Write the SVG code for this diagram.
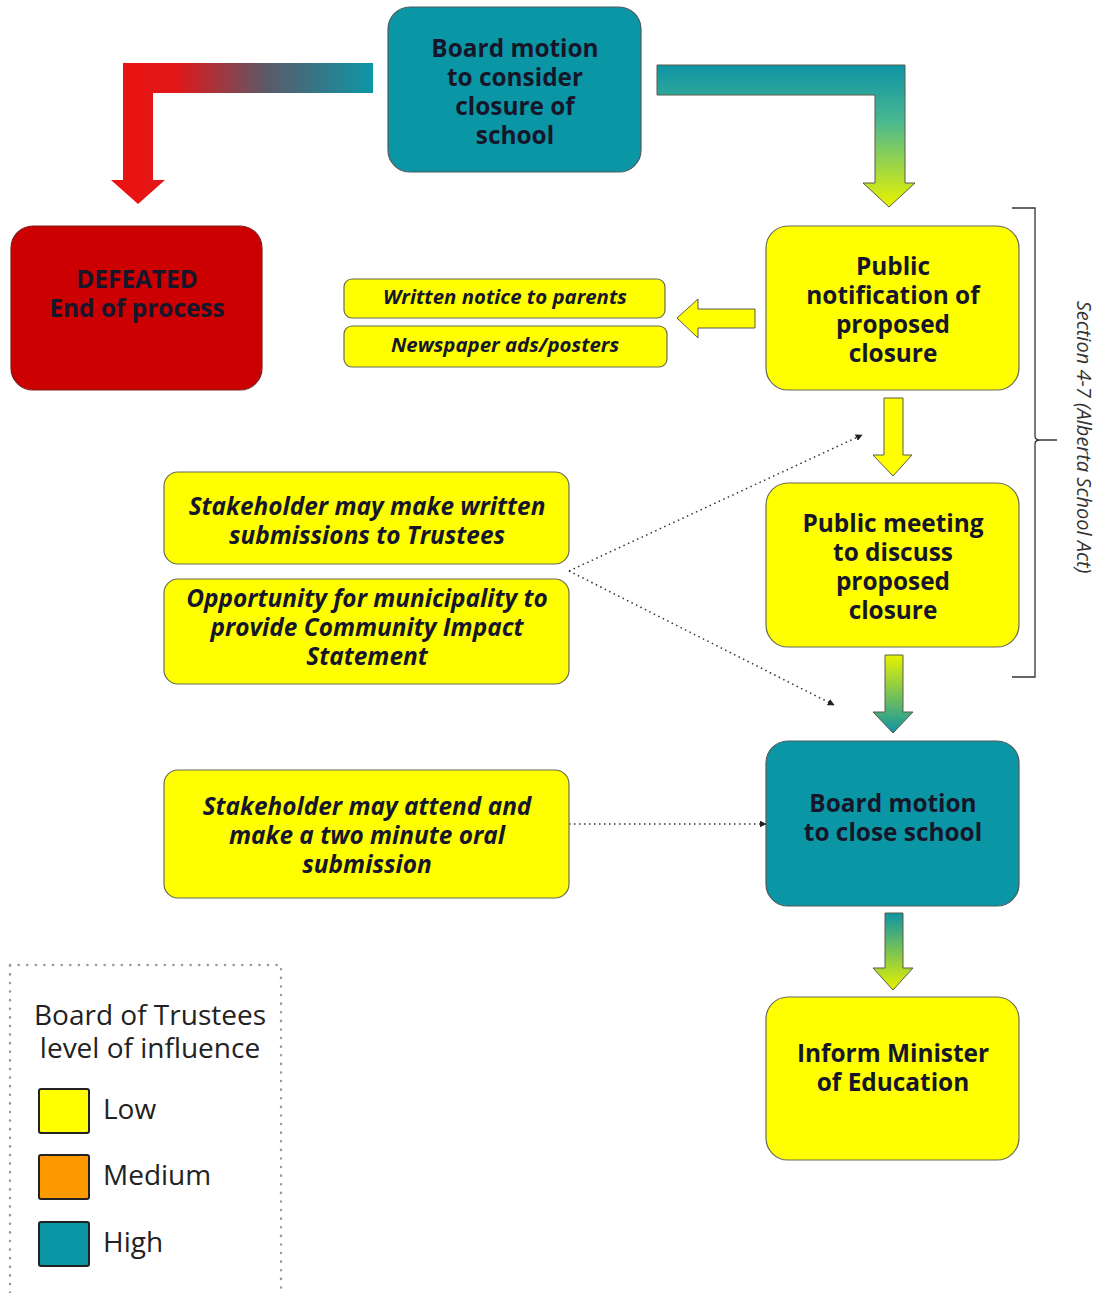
<svg xmlns="http://www.w3.org/2000/svg" width="1098" height="1293" viewBox="0 0 1098 1293">
<style>
.box{stroke:#6b6b55;stroke-width:1.2}
.y{fill:#ffff00}
.t{fill:#0b96a6;stroke:#4d5a5e}
.r{fill:#cc0000;stroke:#7a2020}
.h{font-family:"Open Sans","Liberation Sans",sans-serif;font-weight:bold;font-size:24.4px;fill:#16162a;text-anchor:middle}
.i{font-family:"Open Sans","Liberation Sans",sans-serif;font-weight:bold;font-style:italic;font-size:24.4px;fill:#16162a;text-anchor:middle}
.s{font-size:20.4px}
.dot{fill:none;stroke:#333;stroke-width:1.5;stroke-dasharray:1.5 3.5}
.arr{stroke:#5a5a4a;stroke-width:1}
.lg{font-family:"Open Sans","Liberation Sans",sans-serif;font-size:28px;fill:#222}
</style>
<defs>
<linearGradient id="gRed" x1="0" y1="0" x2="1" y2="0" gradientUnits="objectBoundingBox">
<stop offset="0" stop-color="#ee1111"/><stop offset="0.25" stop-color="#e01818"/><stop offset="0.6" stop-color="#5a5a6a"/><stop offset="1" stop-color="#0e96a6"/>
</linearGradient>
<linearGradient id="gGreen" x1="0" y1="0" x2="0" y2="1">
<stop offset="0" stop-color="#0e94a6"/><stop offset="0.4" stop-color="#4ab890"/><stop offset="1" stop-color="#eaf200"/>
</linearGradient>
<linearGradient id="gYT" x1="0" y1="0" x2="0" y2="1">
<stop offset="0" stop-color="#e8f200"/><stop offset="1" stop-color="#0e94a6"/>
</linearGradient>
<linearGradient id="gTY" x1="0" y1="0" x2="0" y2="1">
<stop offset="0" stop-color="#0e94a6"/><stop offset="1" stop-color="#e8f200"/>
</linearGradient>
<marker id="ah" viewBox="0 0 10 10" refX="9" refY="5" markerWidth="7" markerHeight="7" orient="auto" markerUnits="userSpaceOnUse">
<path d="M0,0 L10,5 L0,10 z" fill="#222"/>
</marker>
</defs>

<g id="connectors">
<path id="arrow-defeat" d="M373,63 L123,63 L123,180 L111,180 L138,204 L165,180 L153,180 L153,93 L373,93 Z" fill="url(#gRed)"/>
<path id="arrow-notify" class="arr" d="M657,65 L905,65 L905,183 L915,183 L889,207 L863,183 L875,183 L875,95 L657,95 Z" fill="url(#gGreen)"/>
<path id="arrow-left" class="arr" d="M755,309 L698,309 L698,299 L677,318 L698,338 L698,328 L755,328 Z" fill="#ffff00"/>
<path id="arrow-down1" class="arr" d="M884,398 L903,398 L903,455 L912,455 L893,476 L873,455 L884,455 Z" fill="#ffff00"/>
<path id="arrow-down2" class="arr" d="M885,655 L903,655 L903,712 L913,712 L893,733 L873,712 L885,712 Z" fill="url(#gYT)"/>
<path id="arrow-down3" class="arr" d="M885,913 L903,913 L903,968 L913,968 L893,990 L873,968 L885,968 Z" fill="url(#gTY)"/>
<line class="dot" x1="569" y1="571" x2="862" y2="435" marker-end="url(#ah)"/>
<line class="dot" x1="569" y1="571" x2="834" y2="705" marker-end="url(#ah)"/>
<line class="dot" x1="569" y1="824" x2="766" y2="824" marker-end="url(#ah)"/>
<path id="bracket" d="M1012,208 L1035,208 L1035,436 Q1035,440 1040,440 L1057,440 M1040,440 Q1035,440 1035,444 L1035,677 L1012,677" fill="none" stroke="#333" stroke-width="1.3"/>
</g>

<g id="n-motion">
<rect class="box t" x="388" y="7" width="253" height="165" rx="22"/>
<text class="h"><tspan x="515" y="57">Board motion</tspan><tspan x="515" y="86">to consider</tspan><tspan x="515" y="115">closure of</tspan><tspan x="515" y="144">school</tspan></text>
</g>
<g id="n-defeated">
<rect class="box r" x="11" y="226" width="251" height="164" rx="22"/>
<text class="h"><tspan x="137" y="288">DEFEATED</tspan><tspan x="137" y="317">End of process</tspan></text>
</g>
<g id="n-notification">
<rect class="box y" x="766" y="226" width="253" height="164" rx="22"/>
<text class="h"><tspan x="893" y="275">Public</tspan><tspan x="893" y="304">notification of</tspan><tspan x="893" y="333">proposed</tspan><tspan x="893" y="362">closure</tspan></text>
</g>
<g id="n-written">
<rect class="box y" x="344" y="279" width="321" height="39" rx="8"/>
<text class="i s" x="505" y="304">Written notice to parents</text>
</g>
<g id="n-newspaper">
<rect class="box y" x="344" y="326" width="323" height="41" rx="8"/>
<text class="i s" x="505" y="352">Newspaper ads/posters</text>
</g>
<g id="n-meeting">
<rect class="box y" x="766" y="483" width="253" height="164" rx="22"/>
<text class="h"><tspan x="893" y="532">Public meeting</tspan><tspan x="893" y="561">to discuss</tspan><tspan x="893" y="590">proposed</tspan><tspan x="893" y="619">closure</tspan></text>
</g>
<g id="n-submissions">
<rect class="box y" x="164" y="472" width="405" height="92" rx="14"/>
<text class="i"><tspan x="367" y="515">Stakeholder may make written</tspan><tspan x="367" y="544">submissions to Trustees</tspan></text>
</g>
<g id="n-opportunity">
<rect class="box y" x="164" y="579" width="405" height="105" rx="14"/>
<text class="i"><tspan x="367" y="607">Opportunity for municipality to</tspan><tspan x="367" y="636">provide Community Impact</tspan><tspan x="367" y="665">Statement</tspan></text>
</g>
<g id="n-close">
<rect class="box t" x="766" y="741" width="253" height="165" rx="22"/>
<text class="h"><tspan x="893" y="812">Board motion</tspan><tspan x="893" y="841">to close school</tspan></text>
</g>
<g id="n-oral">
<rect class="box y" x="164" y="770" width="405" height="128" rx="14"/>
<text class="i"><tspan x="367" y="815">Stakeholder may attend and</tspan><tspan x="367" y="844">make a two minute oral</tspan><tspan x="367" y="873">submission</tspan></text>
</g>
<g id="n-inform">
<rect class="box y" x="766" y="997" width="253" height="163" rx="22"/>
<text class="h"><tspan x="893" y="1062">Inform Minister</tspan><tspan x="893" y="1091">of Education</tspan></text>
</g>

<g id="section-label">
<text transform="translate(1077,437) rotate(90)" font-family="'Open Sans','Liberation Sans',sans-serif" font-style="italic" font-size="20" fill="#333" text-anchor="middle">Section 4-7 (Alberta School Act)</text>
</g>

<g id="legend">
<rect x="10" y="965" width="271" height="340" fill="none" stroke="#999" stroke-width="2.5" stroke-dasharray="0.1 8.5" stroke-linecap="round"/>
<text class="lg" text-anchor="middle" x="150" y="1025">Board of Trustees</text>
<text class="lg" text-anchor="middle" x="150" y="1058">level of influence</text>
<rect x="39" y="1089" width="50" height="44" rx="2" fill="#ffff00" stroke="#222" stroke-width="2"/>
<text class="lg" x="103" y="1119">Low</text>
<rect x="39" y="1155" width="50" height="44" rx="2" fill="#ff9900" stroke="#222" stroke-width="2"/>
<text class="lg" x="103" y="1185">Medium</text>
<rect x="39" y="1222" width="50" height="44" rx="2" fill="#0b96a6" stroke="#222" stroke-width="2"/>
<text class="lg" x="103" y="1252">High</text>
</g>
</svg>
